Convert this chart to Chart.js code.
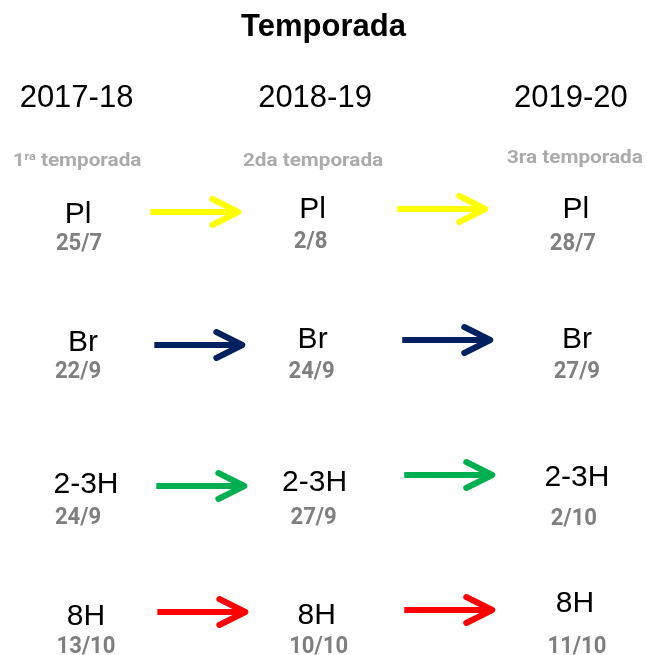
<!DOCTYPE html>
<html lang="es">
<head>
<meta charset="utf-8">
<title>Temporada</title>
<script src="https://cdn.jsdelivr.net/npm/chart.js@4/dist/chart.umd.min.js"></script>
<style>
  html, body { margin: 0; padding: 0; background: #fff; }
  #cont { position: relative; width: 647px; height: 655px; }
</style>
</head>
<body>
<div id="cont"><canvas id="grafica"></canvas></div>
<script>
  /* --- Datos ------------------------------------------------------------- */
  const TEMPORADAS = ['2017-18', '2018-19', '2019-20'];
  const SUBTITULOS = ['1ra temporada', '2da temporada', '3ra temporada'];
  const ESTADIOS = ['Pl', 'Br', '2-3H', '8H'];
  const FECHAS_PL = ['25/7', '2/8', '28/7'];
  const FECHAS_BR = ['22/9', '24/9', '27/9'];
  const FECHAS_23H = ['24/9', '27/9', '2/10'];
  const FECHAS_8H = ['13/10', '10/10', '11/10'];
  const COLORES_FLECHA = ['#ffff00', '#002060', '#00b050', '#ff0000'];

  const FECHAS = [FECHAS_PL, FECHAS_BR, FECHAS_23H, FECHAS_8H];

  /* --- Maquetación --------------------------------------------------------- */
  const COL_X = [0, 0.95, 2];          // posición de cada temporada en la escala x
  const PX_FILA = 134;                 // px por unidad de fila (escala y)
  const PX_COL = 647 / 2.62;           // px por unidad de columna (escala x)
  const Y_ENCABEZADO = -0.843;
  const Y_SUBTITULO = -0.403;
  const MEDIA_FLECHA = 44 / PX_COL;    // media longitud de la flecha

  // [dx etiqueta, dy etiqueta, dx fecha, dy fecha] en px, respecto a la rejilla
  const AJUSTES = [
    [[-1, 3, 0, 30], [-1, -2, -3, 28], [3, -2, 0, 30]],
    [[4, -3, -1, 24], [-1, -6, -2, 24], [4, -6, 4, 24]],
    [[7, 5, -1, 36], [1, 3, 0, 36], [4, -2, 1, 37]],
    [[7, 3, 7, 31], [3, 2, 5, 31], [2, -10, 4, 31]],
  ];
  // [dx centro, dy] en px para cada tramo de flecha
  const AJUSTE_FLECHA = [
    [[-2, -8], [-2, -11]],
    [[2, -9], [3, -14]],
    [[4, -2], [5, -13]],
    [[5, -10], [5, -12]],
  ];
  const AJUSTE_ENC = [[-2.5, 0], [1.4, 0], [-2, 0]];
  const AJUSTE_SUB = [[-2, 0], [-0.6, 0], [2, -3]];

  const F_TITULO = 'bold 31px "Liberation Sans", Arial, sans-serif';
  const F_ENC = '31px "Liberation Sans", Arial, sans-serif';
  const F_ETIQ = '30px "Liberation Sans", Arial, sans-serif';
  const F_FECHA = 'bold 24px Roboto, sans-serif';
  const F_SUB = 'bold 18px Roboto, sans-serif';
  const F_SUB_VOL = 'bold 11px Roboto, sans-serif';

  /* --- Flechas como datasets de línea ------------------------------------ */
  const flechas = [];
  ESTADIOS.forEach((est, fila) => {
    for (let tramo = 0; tramo < 2; tramo++) {
      const [dx, dy] = AJUSTE_FLECHA[fila][tramo];
      const centro = (COL_X[tramo] + COL_X[tramo + 1]) / 2 + dx / PX_COL;
      const y = fila + dy / PX_FILA;
      flechas.push({
        label: est,
        data: [{ x: centro - MEDIA_FLECHA, y }, { x: centro + MEDIA_FLECHA, y }],
        showLine: true,
        borderColor: COLORES_FLECHA[fila],
        backgroundColor: COLORES_FLECHA[fila],
        borderWidth: 6,
        borderCapStyle: 'butt',
        pointRadius: 0,
        pointHoverRadius: 0,
      });
    }
  });

  function texto(ctx, t, x, y, fuente, color, escalaX = 1) {
    ctx.save();
    ctx.font = fuente;
    ctx.fillStyle = color;
    ctx.textAlign = 'center';
    ctx.textBaseline = 'alphabetic';
    ctx.translate(x, y);
    ctx.scale(escalaX, 1);
    ctx.fillText(t, 0, 0);
    ctx.restore();
  }

  // "1ra temporada" lleva el "ra" volado
  function subtitulo(ctx, t, x, y, voladita) {
    const partes = voladita
      ? [[t.slice(0, 1), F_SUB, 0], [t.slice(1, 3), F_SUB_VOL, -6], [t.slice(3), F_SUB, 0]]
      : [[t, F_SUB, 0]];
    ctx.save();
    ctx.fillStyle = '#ababab';
    ctx.textAlign = 'left';
    ctx.textBaseline = 'alphabetic';
    let total = 0;
    const anchos = partes.map(([s, f]) => { ctx.font = f; const w = ctx.measureText(s).width; total += w; return w; });
    ctx.translate(x, y);
    ctx.scale(1.15, 1);
    let px = -total / 2;
    partes.forEach(([s, f, sube], i) => {
      ctx.font = f;
      ctx.fillText(s, px, sube);
      px += anchos[i];
    });
    ctx.restore();
  }

  /* --- Plugins ------------------------------------------------------------ */
  const puntasFlecha = {
    id: 'puntasFlecha',
    afterDatasetsDraw(chart) {
      const ctx = chart.ctx;
      chart.data.datasets.forEach((ds, i) => {
        const pts = chart.getDatasetMeta(i).data;
        const punta = pts[pts.length - 1];
        ctx.save();
        ctx.strokeStyle = ds.borderColor;
        ctx.lineWidth = 6;
        ctx.lineJoin = 'round';
        ctx.lineCap = 'round';
        ctx.beginPath();
        ctx.moveTo(punta.x - 26, punta.y - 13);
        ctx.lineTo(punta.x, punta.y);
        ctx.lineTo(punta.x - 26, punta.y + 13);
        ctx.stroke();
        ctx.restore();
      });
    },
  };

  const textos = {
    id: 'textos',
    afterDraw(chart) {
      const ctx = chart.ctx;
      const sx = chart.scales.x, sy = chart.scales.y;
      TEMPORADAS.forEach((t, c) => {
        const x = sx.getPixelForValue(COL_X[c]);
        texto(ctx, t, x + AJUSTE_ENC[c][0], sy.getPixelForValue(Y_ENCABEZADO) + AJUSTE_ENC[c][1], F_ENC, '#000');
        subtitulo(ctx, SUBTITULOS[c], x + AJUSTE_SUB[c][0], sy.getPixelForValue(Y_SUBTITULO) + AJUSTE_SUB[c][1], c === 0);
      });
      ESTADIOS.forEach((est, fila) => {
        const yBase = sy.getPixelForValue(fila);
        TEMPORADAS.forEach((_, c) => {
          const x = sx.getPixelForValue(COL_X[c]);
          const [dxE, dyE, dxF, dyF] = AJUSTES[fila][c];
          texto(ctx, est, x + dxE, yBase + dyE, F_ETIQ, '#000');
          texto(ctx, FECHAS[fila][c], x + dxF, yBase + dyF, F_FECHA, '#7f7f7f', 0.92);
        });
      });
    },
  };

  /* --- Gráfica -------------------------------------------------------------- */
  function dibujar() {
    new Chart(document.getElementById('grafica'), {
      type: 'scatter',
      data: { datasets: flechas },
      options: {
        responsive: true,
        maintainAspectRatio: false,
        animation: false,
        events: [],
        layout: { padding: 0 },
        plugins: {
          legend: { display: false },
          tooltip: { enabled: false },
          title: {
            display: true,
            text: 'Temporada',
            color: '#000',
            font: { family: '"Liberation Sans", Arial, sans-serif', size: 31, weight: 'bold', lineHeight: 1.2 },
            padding: { top: 9, bottom: 4 },
          },
        },
        scales: {
          x: { type: 'linear', min: -0.32, max: 2.3, display: false },
          y: { type: 'linear', min: -1.267, max: 3.246, reverse: true, display: false },
        },
      },
      plugins: [puntasFlecha, textos],
    });
  }

  Promise.all([F_TITULO, F_ENC, F_FECHA, F_SUB].map(f => document.fonts.load(f)))
    .catch(() => {})
    .then(dibujar);
</script>
</body>
</html>
